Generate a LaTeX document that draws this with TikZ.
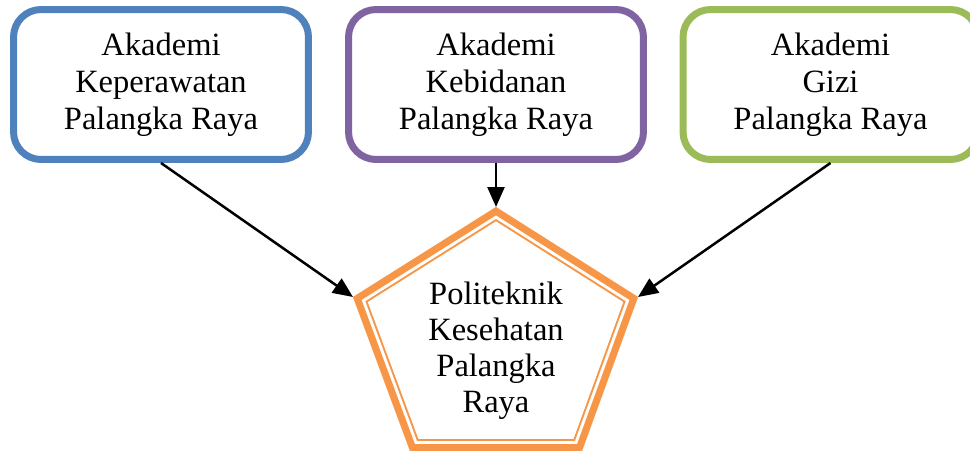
\documentclass[tikz,border=0pt]{standalone}
\usepackage{fontspec}
\setmainfont{Liberation Serif}
\usepackage{xcolor}
\usetikzlibrary{arrows.meta,positioning}
\definecolor{biru}{HTML}{4F81BD}
\definecolor{ungu}{HTML}{8064A2}
\definecolor{hijau}{HTML}{9BBB59}
\definecolor{oranye}{HTML}{F79646}

\begin{document}
\begin{tikzpicture}[x=0.02cm, y=-0.02cm,
  kotak/.style={rectangle, rounded corners=0.55cm, draw, line width=0.14cm, fill=white,
    minimum width=5.9cm, minimum height=3cm, align=center, font=\fontsize{18.5}{21}\selectfont},
  panah/.style={-{Triangle[length=0.4cm,width=0.34cm]}, line width=0.05cm}]
\useasboundingbox (0,0) rectangle (970,450);
\node[kotak, draw=biru] (akper) at (161,84.5) {Akademi\\Keperawatan\\Palangka Raya};
\node[kotak, draw=ungu] (akbid) at (496,84.5) {Akademi\\Kebidanan\\Palangka Raya};
\node[kotak, draw=hijau] (akzi) at (830.5,84.5) {Akademi\\Gizi\\Palangka Raya};
% segi lima
\coordinate (puncak) at (496,207);
\coordinate (kiri) at (353,297);
\coordinate (kanan) at (638,297);
\coordinate (bawahkiri) at (410,451);
\coordinate (bawahkanan) at (582,451);
\begin{scope}
\clip (puncak) -- (kanan) -- (bawahkanan) -- (bawahkiri) -- (kiri) -- cycle;
\draw[oranye, line width=0.48cm] (puncak) -- (kanan) -- (bawahkanan) -- (bawahkiri) -- (kiri) -- cycle;
\draw[white, line width=0.4cm] (puncak) -- (kanan) -- (bawahkanan) -- (bawahkiri) -- (kiri) -- cycle;
\draw[oranye, line width=0.28cm] (puncak) -- (kanan) -- (bawahkanan) -- (bawahkiri) -- (kiri) -- cycle;
\end{scope}
\node[align=center, font=\fontsize{18.5}{20.5}\selectfont] (poltekkes) at (496,351) {Politeknik\\Kesehatan\\Palangka\\Raya};
\draw[panah] (akper.south) -- (kiri);
\draw[panah] (akbid.south) -- (puncak);
\draw[panah] (akzi.south) -- (kanan);
\end{tikzpicture}
\end{document}
